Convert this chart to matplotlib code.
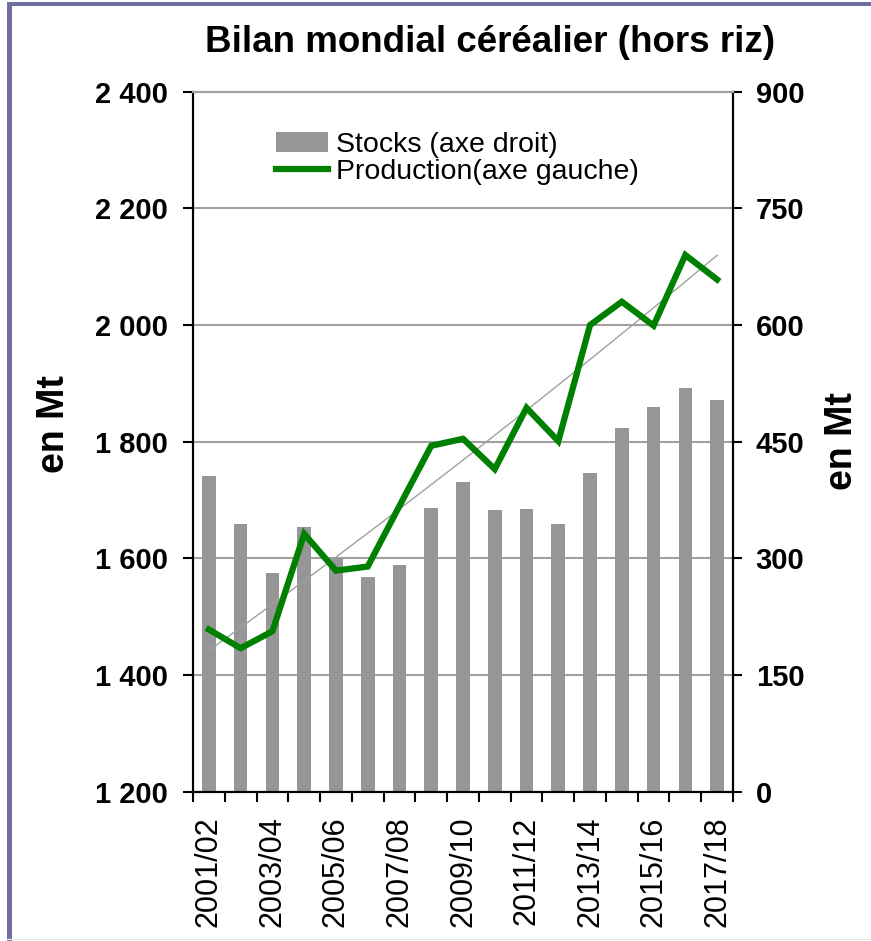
import numpy as np
import matplotlib
matplotlib.use("Agg")
import matplotlib.pyplot as plt
from matplotlib.patches import Rectangle
from matplotlib.lines import Line2D

plt.rcParams['font.family'] = ['Liberation Sans', 'DejaVu Sans']

# ---- data ----
campaigns = ["2001/02", "2002/03", "2003/04", "2004/05", "2005/06", "2006/07",
             "2007/08", "2008/09", "2009/10", "2010/11", "2011/12", "2012/13",
             "2013/14", "2014/15", "2015/16", "2016/17", "2017/18"]
production = [1478, 1446, 1475, 1642, 1579, 1586, 1690, 1793, 1805, 1753,
              1858, 1801, 2000, 2040, 1999, 2120, 2078]
stocks = [406, 344, 281, 340, 300, 276, 292, 365, 398, 362,
          364, 344, 410, 468, 495, 519, 503]
left_ticks = [1200, 1400, 1600, 1800, 2000, 2200, 2400]
left_labels = ["1 200", "1 400", "1 600", "1 800", "2 000", "2 200", "2 400"]
right_ticks = [0, 150, 300, 450, 600, 750, 900]
title = "Bilan mondial céréalier (hors riz)"
label_stocks = "Stocks (axe droit)"
label_prod = "Production(axe gauche)"
ylabel = "en Mt"

W, H = 871, 941
fig = plt.figure(figsize=(W / 100, H / 100), dpi=100)
fig.patch.set_facecolor("white")

L, R, T, B = 193, 733, 91.7, 791.7
ax = fig.add_axes([L / W, 1 - B / H, (R - L) / W, (B - T) / H])
ax2 = ax.twinx()

x = np.arange(len(campaigns))

# bars (right axis)
bars = ax2.bar(x, stocks, width=0.43, color="#969696", zorder=2,
               label=label_stocks)
ax2.set_ylim(0, 900)
ax2.set_yticks(right_ticks)
ax2.set_yticklabels([str(v) for v in right_ticks], fontsize=21,
                    fontweight="bold")
ax2.grid(axis="y", color="#a0a0a0", linewidth=1.5, zorder=0)
ax2.set_axisbelow(True)

# production line + trend (left axis)
ax.set_zorder(ax2.get_zorder() + 1)
ax.patch.set_visible(False)
coef = np.polyfit(x, production, 2)
xt = np.linspace(0, len(x) - 1, 200)
ax.plot(xt, np.polyval(coef, xt), color="#a0a0a0", linewidth=1.0, zorder=3)
line, = ax.plot(x, production, color="#008000", linewidth=4.5, zorder=4,
                solid_joinstyle="miter", label=label_prod)
ax.set_ylim(1200, 2400)
ax.set_yticks(left_ticks)
ax.set_yticklabels(left_labels, fontsize=21, fontweight="bold")
ax.set_xlim(-0.5, len(x) - 0.5)

# x ticks: boundaries as major ticks, labels on minor ticks
ax.set_xticks(np.arange(-0.5, len(x), 1.0))
ax.set_xticklabels([])
ax.set_xticks(x[::2], minor=True)
ax.set_xticklabels(campaigns[::2], minor=True, rotation=90, fontsize=22)
ax.tick_params(axis="x", which="major", length=7.2, width=1.5, direction="out")
ax.tick_params(axis="x", which="minor", length=0, pad=18)
ax.tick_params(axis="y", length=7.2, width=1.5, direction="out", pad=11)
ax2.tick_params(axis="y", length=6.3, width=1.5, direction="out", pad=10)
ax2.tick_params(axis="x", length=0)

for a in (ax, ax2):
    a.spines["top"].set_color("#a0a0a0")
    a.spines["top"].set_linewidth(1.5)
    for s in ("left", "right", "bottom"):
        a.spines[s].set_color("black")
        a.spines[s].set_linewidth(1.5)

# axis labels
fig.text(54 / W, 1 - 424 / H, ylabel, rotation=90, fontsize=27,
         fontweight="bold", ha="center", va="center")
fig.text(842 / W, 1 - 441 / H, ylabel, rotation=90, fontsize=27,
         fontweight="bold", ha="center", va="center")

# title
fig.text(490 / W, 1 - 43 / H, title, fontsize=26.5, fontweight="bold",
         ha="center", va="center")

# legend
ax.legend([bars, line], [label_stocks, label_prod], loc="upper left",
          bbox_to_anchor=((265 - L) / (R - L), (B - 121) / (B - T)),
          frameon=False, fontsize=20.5, handlelength=1.8, handleheight=0.7,
          handletextpad=0.3, labelspacing=0.02, borderaxespad=0)

# outer frame (purple edge on left and top)
fig.add_artist(Rectangle((7 / W, 0), 4.5 / W, 1 - 1.5 / H,
                         transform=fig.transFigure, color="#6e6ea0", lw=0))
fig.add_artist(Rectangle((7 / W, 1 - 6 / H), 1 - 7 / W, 4.5 / H,
                         transform=fig.transFigure, color="#6e6ea0", lw=0))
fig.add_artist(Line2D([7 / W, 1], [2 / H, 2 / H], transform=fig.transFigure,
                      color="#e6e6e6", lw=1))

fig.savefig("out.png", dpi=100, facecolor="white")
